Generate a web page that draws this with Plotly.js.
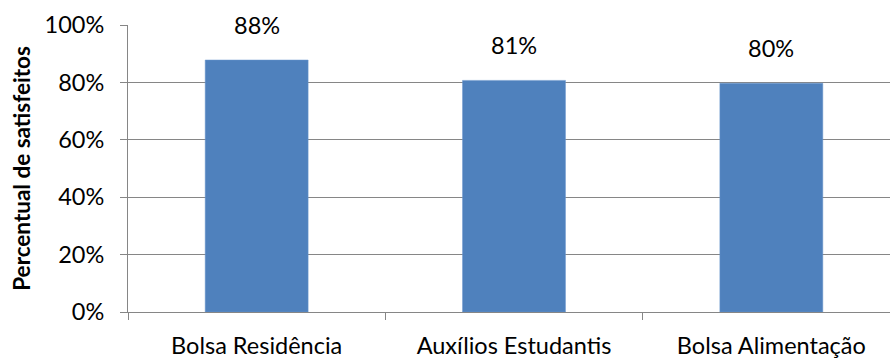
<!DOCTYPE html>
<html><head><meta charset="utf-8">
<script src="https://cdn.plot.ly/plotly-3.0.1.min.js"></script>
<style>html,body{margin:0;padding:0;overflow:hidden;background:#fff;width:890px;height:358px}</style>
</head><body><div id="chart"></div>
<script>
const categories = ["Bolsa Residência", "Auxílios Estudantis", "Bolsa Alimentação"];
const satisfeitos = [0.878, 0.807, 0.797];
const tickValues = [0, 0.2, 0.4, 0.6, 0.8, 1.0];
const tickLabels = ["0%", "20%", "40%", "60%", "80%", "100%"];
const yTitle = "Percentual de satisfeitos";

const font = "Lato, 'Open Sans', sans-serif";
const fs = 23.5;
const trace = {
  type: "bar", x: categories, y: satisfeitos, width: 0.4,
  marker: {color: "#4F81BD", line: {color: "#6B96CC", width: 0.5}},
  hoverinfo: "skip"
};
const annotations = categories.map((c, i) => ({
  x: c, y: satisfeitos[i], xref: "x", yref: "y",
  text: Math.round(satisfeitos[i] * 100) + "%",
  showarrow: false, yanchor: "middle", yshift: 35,
  font: {family: font, size: fs, color: "#000"}
}));
const layout = {
  width: 900, height: 358,
  margin: {l: 128, r: 0, t: 25, b: 46},
  paper_bgcolor: "#fff", plot_bgcolor: "#fff",
  showlegend: false,
  font: {family: font, size: fs, color: "#000"},
  xaxis: {
    type: "category", tickson: "boundaries", ticks: "outside", ticklen: 7,
    tickcolor: "#868686", showline: true, linecolor: "#868686", linewidth: 1,
    showgrid: false, ticklabelstandoff: 13,
    tickfont: {family: font, size: fs, color: "#000"}
  },
  yaxis: {
    range: [0, 1], tickvals: tickValues, ticktext: tickLabels,
    ticks: "outside", ticklen: 7, tickcolor: "#868686",
    showline: true, linecolor: "#868686", linewidth: 1,
    showgrid: true, gridcolor: "#868686", gridwidth: 1, zeroline: false,
    ticklabelstandoff: 11,
    tickfont: {family: font, size: fs, color: "#000"},
    title: {text: "<b>" + yTitle + "</b>", standoff: 7, font: {family: font, size: 22.5, color: "#000"}}
  },
  annotations: annotations
};
Plotly.newPlot("chart", [trace], layout, {displayModeBar: false, staticPlot: true});
</script></body></html>
